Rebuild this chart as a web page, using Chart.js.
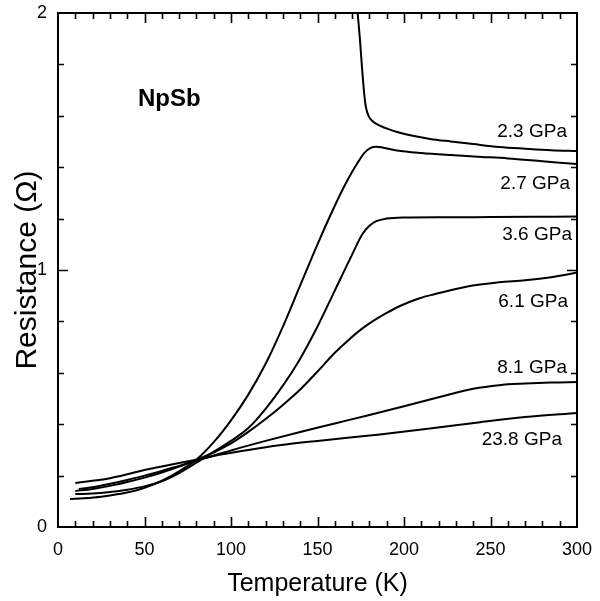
<!DOCTYPE html>
<html>
<head>
<meta charset="utf-8">
<script src="https://cdn.jsdelivr.net/npm/chart.js@4.4.0/dist/chart.umd.min.js"></script>
<style>
  html, body { margin: 0; padding: 0; background: #fff; }
</style>
</head>
<body>
<canvas id="c" width="600" height="601"></canvas>
<script>
const FONT = '"Liberation Sans", Arial, Helvetica, sans-serif';

// curve data (T in K, R in ohm)
const t23 = [173.2, 174.5, 175.7, 176.8, 177.8, 179.5, 182, 186, 191, 196, 205, 215, 227, 240, 255, 270, 285, 300];
const r23 = [2.00, 1.90, 1.79, 1.70, 1.64, 1.60, 1.578, 1.562, 1.548, 1.537, 1.522, 1.51, 1.50, 1.49, 1.479, 1.472, 1.466, 1.463];

const t27 = [7, 15, 25, 35, 45, 55, 65, 72, 80, 90, 100, 110, 120, 130, 140, 150, 160, 167, 173, 177, 181, 184, 188, 196, 210, 227, 245, 260, 280, 300];
const r27 = [0.109, 0.112, 0.118, 0.128, 0.142, 0.165, 0.197, 0.225, 0.262, 0.33, 0.415, 0.515, 0.635, 0.78, 0.94, 1.10, 1.25, 1.345, 1.415, 1.455, 1.476, 1.48, 1.476, 1.465, 1.455, 1.447, 1.44, 1.434, 1.423, 1.412];

const t36 = [10, 20, 30, 40, 50, 60, 70, 80, 90, 100, 110, 120, 130, 140, 150, 160, 170, 176, 180, 184, 190, 200, 225, 250, 275, 300];
const r36 = [0.128, 0.13, 0.136, 0.145, 0.158, 0.178, 0.21, 0.25, 0.293, 0.335, 0.385, 0.46, 0.55, 0.655, 0.78, 0.92, 1.06, 1.14, 1.172, 1.19, 1.2, 1.204, 1.205, 1.206, 1.207, 1.208];

const t61 = [10, 20, 30, 40, 50, 60, 70, 80, 90, 100, 110, 120, 130, 140, 150, 160, 168, 175, 182, 190, 197, 209, 217, 236, 255, 270, 285, 300];
const r61 = [0.14, 0.148, 0.16, 0.175, 0.192, 0.212, 0.235, 0.262, 0.29, 0.325, 0.37, 0.42, 0.475, 0.535, 0.605, 0.678, 0.728, 0.768, 0.801, 0.833, 0.858, 0.89, 0.905, 0.935, 0.952, 0.96, 0.972, 0.99];

const t81 = [12, 20, 30, 40, 50, 60, 70, 80, 90, 100, 120, 140, 160, 180, 200, 220, 240, 255, 270, 285, 300];
const r81 = [0.148, 0.155, 0.168, 0.183, 0.2, 0.218, 0.238, 0.258, 0.278, 0.298, 0.335, 0.37, 0.403, 0.436, 0.47, 0.505, 0.538, 0.552, 0.558, 0.562, 0.564];

const t238 = [10, 20, 30, 40, 50, 65, 80, 95, 110, 128, 150, 186, 215, 244, 270, 300];
const r238 = [0.171, 0.18, 0.19, 0.205, 0.222, 0.242, 0.262, 0.283, 0.30, 0.318, 0.335, 0.36, 0.383, 0.408, 0.428, 0.444];

const pressures = ["2.3 GPa", "2.7 GPa", "3.6 GPa", "6.1 GPa", "8.1 GPa", "23.8 GPa"];
const series = [[t23, r23], [t27, r27], [t36, r36], [t61, r61], [t81, r81], [t238, r238]];

// where each curve label sits (data coords, right aligned, text baseline)
const labelSpots = [
  [294.2, 1.518], [296, 1.317], [297.1, 1.117], [294.8, 0.857], [294.2, 0.598], [291.3, 0.319]
];

const toPts = (xs, ys) => xs.map((x, i) => ({ x, y: ys[i] }));

// no room reserved for overflowing end labels: the frame fills the page
const noPad = (s) => { s.paddingTop = 0; s.paddingBottom = 0; s.paddingLeft = 0; s.paddingRight = 0; };

// inward ticks + frame, like the original plot
const frameTicks = {
  id: "frameTicks",
  afterDraw(chart) {
    const { ctx, chartArea: a, scales } = chart;
    const sx = scales.x, sy = scales.y;
    ctx.save();
    ctx.strokeStyle = "#000";
    ctx.lineWidth = 2;
    ctx.strokeRect(a.left, a.top, a.right - a.left, a.bottom - a.top);
    ctx.lineWidth = 1.6;
    ctx.beginPath();
    for (let t = 10; t < 300; t += 10) {
      const px = Math.round(sx.getPixelForValue(t)) + 0.5;
      const len = t % 50 === 0 ? 10 : 6;
      ctx.moveTo(px, a.bottom); ctx.lineTo(px, a.bottom - len);
      ctx.moveTo(px, a.top); ctx.lineTo(px, a.top + len);
    }
    for (let i = 1; i < 10; i++) {
      const py = Math.round(sy.getPixelForValue(i * 0.2)) + 0.5;
      const len = i === 5 ? 10 : 6;
      ctx.moveTo(a.left, py); ctx.lineTo(a.left + len, py);
      ctx.moveTo(a.right, py); ctx.lineTo(a.right - len, py);
    }
    ctx.stroke();
    ctx.restore();
  }
};

const curveLabels = {
  id: "curveLabels",
  afterDraw(chart) {
    const { ctx, scales } = chart;
    ctx.save();
    ctx.fillStyle = "#000";
    ctx.textBaseline = "alphabetic";
    ctx.textAlign = "right";
    ctx.font = `19px ${FONT}`;
    pressures.forEach((p, i) => {
      const [tx, ry] = labelSpots[i];
      ctx.fillText(p, scales.x.getPixelForValue(tx), scales.y.getPixelForValue(ry));
    });
    ctx.textAlign = "left";
    ctx.font = `bold 24px ${FONT}`;
    ctx.fillText("NpSb", scales.x.getPixelForValue(46.2), scales.y.getPixelForValue(1.639));
    ctx.restore();
  }
};

new Chart(document.getElementById("c"), {
  type: "line",
  data: {
    datasets: series.map(([xs, ys], i) => ({
      label: pressures[i],
      data: toPts(xs, ys),
      borderColor: "#000",
      borderWidth: 2,
      pointRadius: 0,
      fill: false,
      cubicInterpolationMode: "monotone"
    }))
  },
  options: {
    responsive: false,
    animation: false,
    layout: { padding: 0 },
    plugins: { legend: { display: false }, tooltip: { enabled: false } },
    scales: {
      x: {
        type: "linear", position: "bottom", min: 0, max: 300,
        grid: { display: false, drawTicks: false },
        border: { display: false },
        ticks: { stepSize: 50, color: "#000", font: { family: FONT, size: 18 }, padding: 12, maxRotation: 0 },
        title: { display: true, text: "Temperature (K)", color: "#000", font: { family: FONT, size: 25 }, padding: { top: 0, bottom: 2 } },
        afterFit: (s) => { s.height = 74; noPad(s); }
      },
      xTop: {
        type: "linear", position: "top", min: 0, max: 300,
        grid: { display: false, drawTicks: false },
        border: { display: false },
        ticks: { display: false },
        afterFit: (s) => { s.height = 13; noPad(s); }
      },
      y: {
        type: "linear", position: "left", min: 0, max: 2,
        grid: { display: false, drawTicks: false },
        border: { display: false },
        ticks: { stepSize: 1, color: "#000", font: { family: FONT, size: 18 }, padding: 11 },
        title: { display: true, text: "Resistance (\u03A9)", color: "#000", font: { family: FONT, size: 30 }, padding: { top: 10, bottom: 0 } },
        afterFit: (s) => { s.width = 58; noPad(s); }
      },
      yRight: {
        type: "linear", position: "right", min: 0, max: 2,
        grid: { display: false, drawTicks: false },
        border: { display: false },
        ticks: { display: false },
        afterFit: (s) => { s.width = 23; noPad(s); }
      }
    }
  },
  plugins: [frameTicks, curveLabels]
});
</script>
</body>
</html>
